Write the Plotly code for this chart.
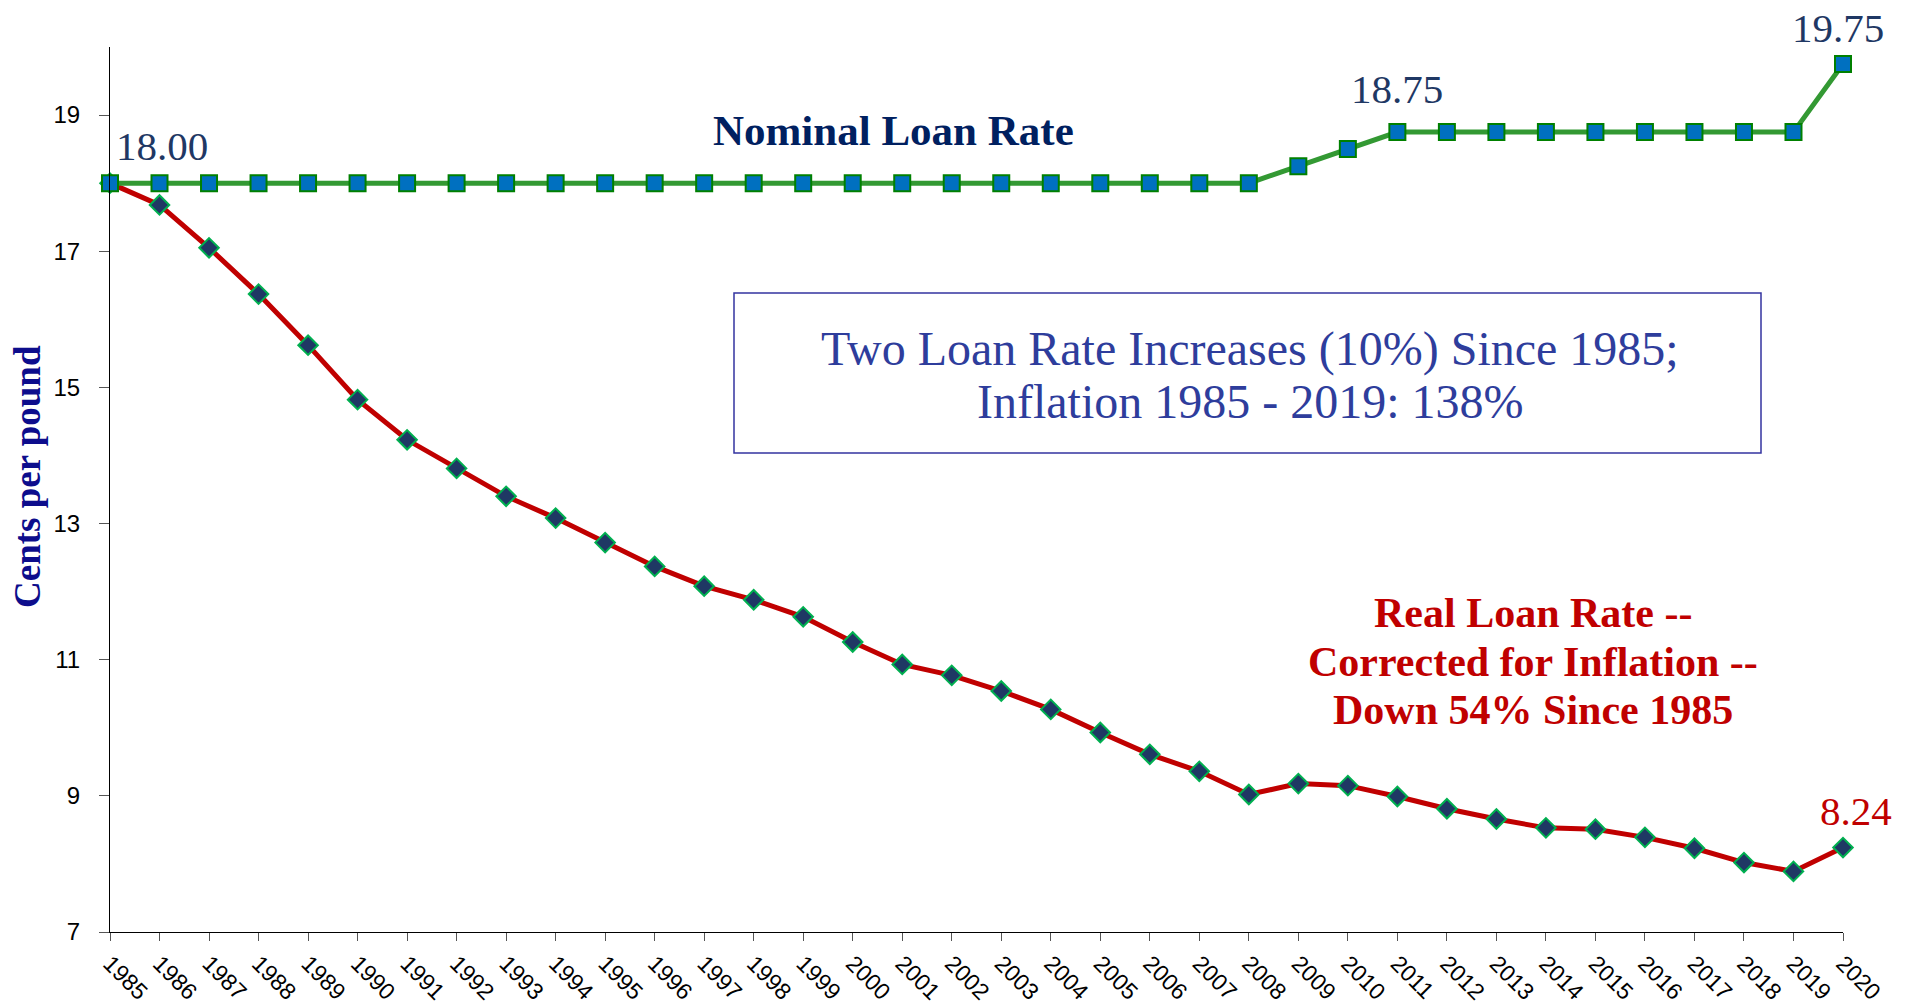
import plotly.graph_objects as go

years = list(range(1985, 2021))
nominal = [18.00] * 24 + [18.25, 18.50] + [18.75] * 9 + [19.75]
real = [18.00, 17.68, 17.05, 16.37, 15.62, 14.82, 14.23, 13.81, 13.40, 13.08,
        12.72, 12.37, 12.08, 11.88, 11.63, 11.26, 10.93, 10.77, 10.54, 10.27,
        9.93, 9.61, 9.36, 9.02, 9.18, 9.15, 8.99, 8.81, 8.66, 8.53,
        8.51, 8.39, 8.23, 8.02, 7.89, 8.24]
y_ticks = [7, 9, 11, 13, 15, 17, 19]
box_lines = ["Two Loan Rate Increases (10%) Since 1985;", "Inflation 1985 - 2019: 138%"]
real_lines = ["Real Loan Rate --", "Corrected for Inflation --", "Down 54% Since 1985"]

SERIF = "Liberation Serif"
SANS = "Liberation Sans"

# plot area in page pixels: x 110..1843, y 47..932
PX0, PX1, PY0, PY1 = 110, 1843, 47, 932


def px(x):
    return (x - PX0) / (PX1 - PX0)


def py(y):
    return 1 - (y - PY0) / (PY1 - PY0)


fig = go.Figure()
fig.add_trace(go.Scatter(
    x=years, y=real, mode="lines+markers", cliponaxis=False,
    line=dict(color="#C00000", width=5),
    marker=dict(symbol="diamond", size=15, color="#1F3864",
                line=dict(color="#00B050", width=2)),
    showlegend=False))
fig.add_trace(go.Scatter(
    x=years, y=nominal, mode="lines+markers", cliponaxis=False,
    line=dict(color="#339933", width=5),
    marker=dict(symbol="square", size=16, color="#0070C0",
                line=dict(color="#008000", width=2)),
    showlegend=False))

anns = []
for idx, xs, ys in [(0, 52, 37), (26, 0, 43), (35, -5, 36)]:
    anns.append(dict(x=years[idx], y=nominal[idx], xref="x", yref="y",
                     text=f"{nominal[idx]:.2f}", showarrow=False,
                     xanchor="center", yanchor="middle",
                     xshift=xs, yshift=ys,
                     font=dict(family=SERIF, size=41, color="#1F3864")))
anns.append(dict(x=years[-1], y=real[-1], xref="x", yref="y",
                 text=f"{real[-1]:.2f}", showarrow=False, xshift=13, yshift=37,
                 xanchor="center", yanchor="middle",
                 font=dict(family=SERIF, size=41, color="#C00000")))
anns.append(dict(x=px(893), y=py(130), xref="paper", yref="paper",
                 xanchor="center", yanchor="middle",
                 text="<b>Nominal Loan Rate</b>", showarrow=False,
                 font=dict(family=SERIF, size=43, color="#002060")))
for t, yy in zip(real_lines, [613, 662, 710]):
    anns.append(dict(x=px(1533), y=py(yy), xref="paper", yref="paper",
                     xanchor="center", yanchor="middle",
                     text=f"<b>{t}</b>", showarrow=False,
                     font=dict(family=SERIF, size=42, color="#C00000")))
for t, yy in zip(box_lines, [349, 402]):
    anns.append(dict(x=px(1250), y=py(yy), xref="paper", yref="paper",
                     xanchor="center", yanchor="middle",
                     text=t, showarrow=False,
                     font=dict(family=SERIF, size=48, color="#2E3D9C")))
anns.append(dict(x=px(28), y=py(477), xref="paper", yref="paper",
                 xanchor="center", yanchor="middle",
                 text="<b>Cents per pound</b>", textangle=-90, showarrow=False,
                 font=dict(family=SERIF, size=37, color="#0D0D8C")))

shapes = [dict(type="rect", xref="paper", yref="paper",
               x0=px(734), x1=px(1761), y0=py(453), y1=py(293),
               line=dict(color="#3333A0", width=1.5), fillcolor="white", layer="below")]

# page body has an 8px margin, so the figure is drawn 8px in from the top-left
fig.update_layout(
    width=1903, height=1000,
    margin=dict(l=PX0 - 8, r=1911 - PX1, t=PY0 - 8, b=1008 - PY1, autoexpand=False),
    plot_bgcolor="white", paper_bgcolor="white",
    annotations=anns, shapes=shapes,
    xaxis=dict(range=[1985, 2020], tickmode="array", tickvals=years,
               ticktext=[str(y) for y in years], tickangle=45, automargin=False,
               showgrid=False, zeroline=False, showline=True, linecolor="black",
               linewidth=1, ticks="outside", ticklen=8, tickcolor="#555555",
               ticklabelstandoff=0,
               tickfont=dict(family=SANS, size=23, color="black")),
    yaxis=dict(range=[7, 20], tickvals=y_ticks, showgrid=False, zeroline=False,
               automargin=False,
               showline=True, linecolor="black", linewidth=1, ticks="outside",
               ticklen=10, tickcolor="#555555", ticklabelstandoff=14,
               tickfont=dict(family=SANS, size=24, color="black")),
)

fig.write_html("out.html")
